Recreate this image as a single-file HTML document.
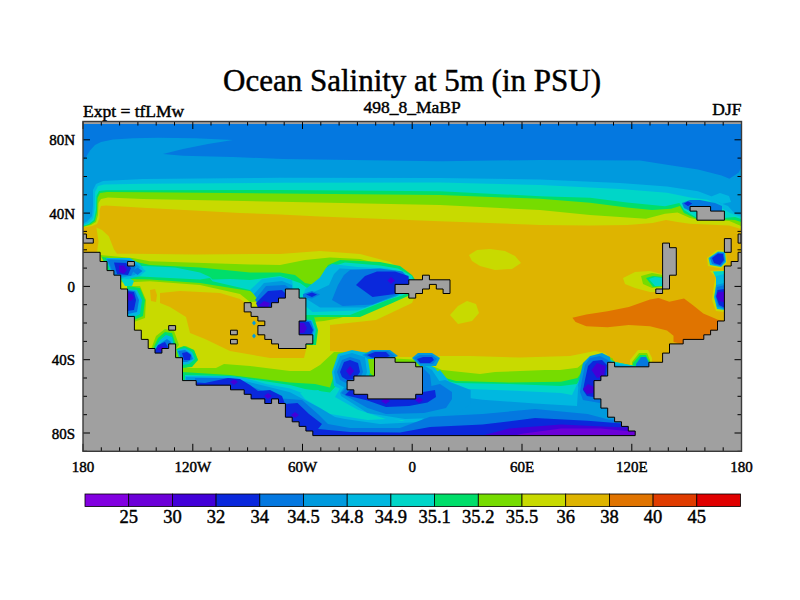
<!DOCTYPE html>
<html><head><meta charset="utf-8"><style>
html,body{margin:0;padding:0;background:#fff;}
svg{position:absolute;left:0;top:0;display:block}
text{font-family:"Liberation Serif",serif;fill:#000;stroke:#000;stroke-width:0.45px}
</style></head><body>
<svg width="800" height="600" viewBox="0 0 800 600">
<rect x="0" y="0" width="800" height="600" fill="#fff"/>
<text x="412" y="91" text-anchor="middle" font-size="31">Ocean Salinity at 5m (in PSU)</text>
<text x="412" y="112.5" text-anchor="middle" font-size="17.5">498_8_MaBP</text>
<text x="83" y="117" font-size="17.5">Expt = tfLMw</text>
<text x="741.5" y="115" text-anchor="end" font-size="17.5">DJF</text>
<clipPath id="mc"><rect x="83.0" y="121.5" width="658.5" height="329.8"/></clipPath>
<g clip-path="url(#mc)">
<rect x="83.0" y="121.5" width="658.5" height="329.8" fill="#DEB400"/>
<polygon points="83.0,122.0 83.0,227.5 92.0,226.0 97.0,224.0 99.5,218.0 99.5,210.0 101.0,206.0 106.0,205.5 143.0,207.7 240.0,213.0 280.0,214.5 320.0,216.5 440.0,221.2 540.0,225.0 590.0,225.6 627.5,225.0 652.5,223.1 666.0,220.0 677.5,221.9 690.0,223.8 729.0,225.6 741.0,229.0 741.0,122.0" fill="#C8DA00"/>
<polygon points="83.0,122.0 83.0,227.0 91.0,225.0 96.0,222.0 98.0,215.0 98.5,203.0 101.0,199.0 108.0,197.5 143.0,199.0 280.0,201.8 440.0,205.0 540.0,210.0 590.0,215.0 646.0,218.8 665.0,213.8 677.5,212.5 690.0,218.0 696.6,219.4 729.4,221.0 741.0,226.0 741.0,122.0" fill="#76DC00"/>
<polygon points="83.0,122.0 83.0,226.5 90.0,224.5 95.0,221.0 97.0,212.0 97.5,198.0 100.0,193.0 107.0,192.0 143.0,192.3 280.0,193.5 440.0,195.0 540.0,198.8 590.0,202.8 627.0,207.5 652.0,210.0 671.0,208.8 680.0,206.0 684.0,213.0 697.0,219.0 724.0,219.5 735.0,220.0 741.0,222.0 741.0,122.0" fill="#00DE6A"/>
<polygon points="83.0,122.0 83.0,226.0 89.0,224.0 94.0,220.0 96.0,210.0 96.5,196.0 99.0,191.0 106.0,190.3 143.0,190.3 280.0,190.0 440.0,191.2 540.0,196.2 590.0,197.8 627.0,202.5 665.0,206.2 679.4,203.1 684.0,210.0 697.0,218.0 724.0,218.0 735.0,217.0 741.0,219.0 741.0,122.0" fill="#00D6C8"/>
<polygon points="83.0,122.0 83.0,225.0 88.0,223.0 93.0,218.0 94.5,208.0 95.0,192.0 98.0,186.0 104.0,184.5 143.0,183.7 280.0,182.8 440.0,182.5 540.0,185.0 620.0,189.0 667.0,192.8 690.3,197.5 707.5,199.8 730.0,213.0 741.0,217.0 741.0,122.0" fill="#00B8E0"/>
<polygon points="83.0,122.0 83.0,223.5 87.0,221.5 92.0,216.0 93.0,205.0 93.0,190.0 96.0,184.0 103.0,181.0 143.0,179.0 280.0,177.8 440.0,178.0 540.0,179.5 620.0,183.1 667.0,186.6 698.0,191.2 710.6,196.0 720.0,203.0 728.0,206.0 735.0,214.0 741.0,215.0 741.0,122.0" fill="#009ADE"/>
<polygon points="83.0,122.0 83.0,161.0 86.0,157.0 90.0,150.5 95.0,145.0 101.0,142.0 113.0,139.5 133.0,138.3 158.0,137.8 195.5,138.3 233.0,140.0 208.0,144.0 183.0,149.0 163.0,154.0 183.0,155.8 233.0,157.0 283.0,159.0 440.0,161.2 540.0,160.0 640.0,160.5 667.0,164.7 698.0,169.4 721.6,175.6 729.4,178.8 738.8,172.5 741.0,168.0 741.0,122.0" fill="#0478E0"/>
<polygon points="710.0,197.0 720.0,193.0 729.0,196.0 731.0,202.0 722.0,204.0" fill="#00B8E0"/>
<polygon points="682.0,203.0 690.0,200.0 700.0,200.0 715.0,203.0 722.0,206.0 722.0,211.0 697.0,211.0 690.0,211.0 684.0,208.0" fill="#0478E0"/>
<polygon points="684.0,203.5 688.0,201.5 692.0,203.5 688.0,206.0" fill="#0A28DC"/>
<polygon points="83.0,252.3 97.0,252.0 98.5,241.3 96.4,227.4 102.0,230.0 108.8,236.2 114.0,249.6 117.0,253.7 132.5,253.8 195.0,254.4 280.0,254.0 320.0,251.0 360.0,254.0 390.0,262.0 408.0,274.0 420.0,285.0 412.0,303.0 376.0,320.0 330.0,325.0 330.0,351.0 360.0,353.0 400.0,357.0 420.0,357.0 440.0,356.0 470.0,356.0 520.0,357.5 570.0,356.0 595.0,351.0 605.0,353.0 615.0,362.0 615.0,440.0 83.0,440.0" fill="#C8DA00"/>
<polygon points="160.0,293.0 180.0,291.0 220.0,293.0 240.0,299.0 250.0,306.0 275.0,325.0 285.0,346.0 306.0,350.0 304.0,358.0 270.0,358.0 230.0,351.0 205.0,339.0 190.0,333.0 186.0,317.0 170.0,307.0 160.0,303.0" fill="#DEB400"/>
<polygon points="150.0,290.0 155.0,289.0 157.0,295.0 156.0,302.0 151.0,301.0" fill="#DEB400"/>
<polygon points="572.4,317.7 586.3,314.5 607.5,311.3 628.8,307.0 650.0,299.6 658.6,298.0 669.3,301.7 684.0,298.5 692.7,305.0 703.3,313.4 718.0,319.8 730.0,322.0 730.0,345.0 686.0,345.0 673.5,342.0 673.5,335.7 667.0,330.4 650.0,326.2 628.8,325.1 607.5,327.2 586.3,326.2 575.6,322.0" fill="#E07400"/>
<polygon points="469.0,255.0 477.0,250.0 490.0,249.0 505.0,251.0 515.0,256.0 521.0,263.0 512.0,269.0 495.0,270.0 480.0,266.0 472.0,261.0" fill="#C8DA00"/>
<polygon points="450.0,315.0 458.0,306.0 467.0,301.0 476.0,304.0 479.0,313.0 472.0,321.0 458.0,324.0" fill="#C8DA00"/>
<polygon points="623.0,278.0 635.0,272.0 650.0,271.0 662.0,274.0 664.0,292.0 650.0,292.0 635.0,288.0 625.0,284.0" fill="#C8DA00"/>
<polygon points="630.0,360.0 638.0,350.0 648.0,350.0 652.0,358.0 652.0,367.0 630.0,367.0" fill="#C8DA00"/>
<polygon points="100.0,255.0 132.5,258.0 150.0,261.2 250.0,264.4 280.0,265.0 305.0,260.0 330.0,257.5 360.0,259.0 392.0,267.0 408.0,277.0 420.0,285.0 408.0,293.0 392.0,303.0 360.0,311.0 340.0,318.0 324.0,321.0 312.0,322.0 300.0,300.0 250.0,302.0 240.0,294.0 200.0,285.0 150.0,281.2 126.0,282.5 115.0,282.0" fill="#76DC00"/>
<polygon points="127.0,286.0 140.0,286.0 146.0,300.0 145.0,318.0 134.0,322.0 127.0,318.0" fill="#76DC00"/>
<polygon points="150.0,352.0 156.0,336.0 165.0,329.0 174.0,331.0 179.0,345.0 172.0,354.0" fill="#76DC00"/>
<polygon points="641.0,276.0 652.0,273.0 663.0,275.0 663.0,287.0 652.0,288.0 643.0,284.0" fill="#76DC00"/>
<polygon points="632.0,362.0 639.0,353.0 647.0,353.0 650.0,360.0 650.0,367.0 632.0,367.0" fill="#76DC00"/>
<polygon points="175.0,355.0 178.0,348.0 186.0,346.0 194.0,350.0 198.0,360.0 186.0,368.0 216.0,368.0 224.0,364.0 250.0,366.0 290.0,371.0 310.0,371.0 320.0,365.0 334.0,352.0 367.0,352.0 375.0,357.5 423.0,360.0 430.0,365.0 442.0,370.0 480.0,374.0 495.0,372.0 545.0,370.0 560.0,370.0 577.5,367.7 589.0,358.3 603.0,354.2 612.5,358.3 615.0,363.0 640.0,367.0 640.0,440.0 175.0,440.0" fill="#76DC00"/>
<polygon points="102.0,257.0 132.5,261.0 150.0,265.0 200.0,267.5 250.0,272.5 280.0,272.5 295.0,275.0 305.0,283.0 315.0,285.0 322.0,275.0 328.0,265.0 340.0,260.0 380.0,262.0 400.0,266.0 412.0,275.0 420.0,287.0 408.0,296.0 390.0,304.0 360.0,317.0 320.0,317.0 305.0,318.0 296.0,300.0 262.0,296.0 250.0,291.0 200.0,283.0 150.0,279.4 130.0,279.0 112.0,281.0" fill="#00DE6A"/>
<polygon points="127.0,286.0 140.0,288.0 145.0,300.0 143.0,316.0 134.0,320.0 127.0,320.0" fill="#00DE6A"/>
<polygon points="152.0,351.0 158.0,338.0 165.0,332.0 172.0,333.0 176.0,345.0 170.0,353.0" fill="#00DE6A"/>
<polygon points="176.0,349.0 184.0,346.0 194.0,350.0 198.0,360.0 192.0,367.0 182.0,368.0" fill="#00DE6A"/>
<polygon points="299.0,317.0 314.0,317.0 318.0,330.0 316.0,345.0 299.0,345.0" fill="#00DE6A"/>
<polygon points="182.0,372.0 230.0,375.0 270.0,380.0 290.0,382.5 315.0,384.0 330.0,387.5 334.0,375.0 338.0,358.0 350.0,354.0 363.0,356.0 367.0,370.0 375.0,378.0 400.0,380.0 423.0,368.0 435.0,375.0 456.0,381.0 509.0,382.6 561.0,381.7 577.5,378.0 583.0,370.0 592.7,359.5 602.0,356.0 615.0,362.0 640.0,367.0 640.0,440.0 182.0,440.0" fill="#00DE6A"/>
<polygon points="646.0,278.0 653.0,276.0 663.0,277.0 663.0,286.0 653.0,287.0" fill="#00DE6A"/>
<polygon points="633.0,363.0 640.0,355.0 646.0,355.0 649.0,361.0 649.0,367.0 633.0,367.0" fill="#00DE6A"/>
<polygon points="118.0,265.0 150.0,266.2 175.0,267.5 200.0,272.5 210.0,276.9 212.5,279.4 230.0,279.0 250.0,280.0 280.0,276.0 300.0,283.0 310.0,290.0 318.0,288.0 325.0,280.0 330.0,267.0 345.0,262.5 380.0,265.5 398.0,268.5 412.0,276.0 415.0,289.0 402.5,295.5 387.5,300.0 350.0,315.0 305.0,315.0 299.0,300.0 290.0,302.0 262.0,298.0 250.0,290.0 212.5,281.2 210.0,278.0 200.0,279.4 150.0,276.9 130.0,276.0 118.0,277.0" fill="#00D6C8"/>
<polygon points="121.0,279.0 128.0,277.0 134.0,281.0 132.0,286.0 125.0,286.0" fill="#00D6C8"/>
<polygon points="185.0,375.0 230.0,376.0 270.0,382.0 290.0,385.0 305.0,389.0 330.0,392.5 336.0,386.0 336.0,370.0 344.0,357.0 355.0,355.0 365.0,360.0 369.0,378.0 400.0,384.0 423.0,372.0 433.0,378.0 456.0,383.0 509.0,384.0 561.0,386.0 577.0,384.0 583.0,374.7 595.0,360.7 605.0,357.0 615.0,362.0 640.0,367.0 640.0,440.0 185.0,440.0" fill="#00D6C8"/>
<polygon points="649.0,279.0 655.0,277.0 663.0,278.0 663.0,286.0 655.0,286.0" fill="#00D6C8"/>
<polygon points="130.0,271.0 138.0,266.0 146.0,271.0 138.0,276.0" fill="#00B8E0"/>
<polygon points="106.0,258.0 130.0,258.0 140.0,264.0 145.0,271.0 140.0,276.0 128.0,279.0 112.0,277.0" fill="#00B8E0"/>
<polygon points="127.0,289.0 137.0,290.0 142.0,300.0 140.0,314.0 132.0,318.0 127.0,316.0" fill="#00B8E0"/>
<polygon points="153.0,351.0 160.0,340.0 166.0,335.0 172.0,337.0 174.0,346.0 168.0,353.0" fill="#00B8E0"/>
<polygon points="177.0,350.0 185.0,348.0 192.0,352.0 195.0,359.0 189.0,364.0 182.0,365.0" fill="#00B8E0"/>
<polygon points="250.0,290.0 262.0,279.0 280.0,277.0 292.0,280.0 295.0,300.0 262.0,304.0" fill="#00B8E0"/>
<polygon points="332.0,264.0 357.5,267.0 387.5,268.5 405.0,273.0 412.0,285.0 395.0,297.0 357.5,310.5 312.5,312.0 302.0,303.0 305.0,289.5 320.0,277.5 326.0,268.0" fill="#00B8E0"/>
<polygon points="299.0,319.0 312.0,320.0 316.0,330.0 314.0,340.0 299.0,340.0" fill="#00B8E0"/>
<polygon points="185.0,376.0 230.0,376.0 245.0,378.0 266.0,384.0 290.0,388.5 305.0,394.0 330.0,406.0 360.0,413.0 385.0,417.0 402.0,421.0 415.0,417.0 432.0,402.0 443.0,388.0 509.0,390.5 561.0,393.0 572.0,395.0 580.0,378.0 590.0,363.0 600.0,357.0 615.0,363.0 640.0,367.0 640.0,440.0 185.0,440.0" fill="#00B8E0"/>
<polygon points="332.0,372.0 338.0,354.0 352.0,350.0 367.0,353.0 370.0,372.0 365.0,390.0 347.0,392.0 334.0,386.0" fill="#00B8E0"/>
<polygon points="423.0,362.0 435.0,368.0 444.0,380.0 446.0,395.0 442.0,408.0 423.0,408.0" fill="#00B8E0"/>
<polygon points="338.0,392.0 342.0,384.0 423.0,380.0 440.0,370.0 452.0,385.0 480.0,395.0 480.0,417.5 442.6,423.0 386.0,419.0 358.0,410.0 335.0,397.0" fill="#00B8E0"/>
<polygon points="300.0,393.0 318.0,390.0 330.0,397.0 358.0,410.0 386.0,419.0 367.5,420.0 330.0,414.0 305.0,399.0" fill="#00D6C8"/>
<polygon points="106.0,259.0 131.0,260.0 140.0,267.0 135.0,275.0 120.0,278.0 113.0,275.0" fill="#009ADE"/>
<polygon points="254.0,294.0 264.0,283.0 282.0,281.0 292.0,285.0 292.0,300.0 262.0,306.0" fill="#009ADE"/>
<polygon points="339.5,268.5 372.5,270.0 400.0,271.0 412.0,285.0 397.0,296.0 365.0,307.5 320.0,307.5 305.0,298.0 309.5,294.0 329.0,285.0 334.0,274.0" fill="#009ADE"/>
<polygon points="252.0,323.0 254.0,320.5 256.0,323.0 254.0,325.5" fill="#009ADE"/>
<polygon points="252.0,336.0 254.0,333.5 256.0,336.0 254.0,338.5" fill="#009ADE"/>
<polygon points="186.0,377.0 230.0,378.0 245.0,381.0 290.0,392.2 320.0,408.0 335.0,417.0 345.0,419.0 380.0,424.0 420.0,422.0 432.0,410.0 430.0,393.0 482.5,399.7 535.0,403.6 577.0,406.0 578.0,390.0 585.0,372.0 592.0,360.0 602.0,357.0 615.0,365.0 640.0,367.0 640.0,440.0 186.0,440.0" fill="#009ADE"/>
<polygon points="334.0,372.0 340.0,356.0 352.0,353.0 365.0,357.0 367.0,372.0 362.0,386.0 347.0,389.0 336.0,383.0" fill="#009ADE"/>
<polygon points="362.0,355.0 372.0,350.0 390.0,350.0 398.0,356.0 390.0,359.0 368.0,359.0" fill="#009ADE"/>
<polygon points="412.0,358.0 418.0,353.0 432.0,353.0 440.0,358.0 436.0,366.0 420.0,366.0" fill="#009ADE"/>
<polygon points="423.0,365.0 432.0,370.0 440.0,382.0 440.0,400.0 423.0,402.0" fill="#009ADE"/>
<polygon points="340.0,393.0 345.0,386.0 423.0,384.0 445.0,380.0 470.7,390.0 470.7,404.0 452.0,417.5 405.0,419.0 367.5,413.0 341.0,396.0" fill="#009ADE"/>
<polygon points="578.0,385.0 583.0,363.0 590.0,356.0 602.0,353.0 610.0,357.0 612.0,370.0 605.0,400.0 580.0,404.0" fill="#009ADE"/>
<polygon points="107.5,259.4 128.0,260.0 136.0,266.0 131.0,276.0 114.0,275.0" fill="#0478E0"/>
<polygon points="132.5,271.0 137.5,267.5 142.5,271.0 137.5,275.0" fill="#0478E0"/>
<polygon points="127.0,290.0 135.0,291.0 139.0,300.0 137.0,312.0 128.0,314.0" fill="#0478E0"/>
<polygon points="154.0,352.0 161.0,343.0 167.0,339.0 171.0,342.0 170.0,350.0 166.0,353.0" fill="#0478E0"/>
<polygon points="178.0,351.0 185.0,350.0 191.0,354.0 193.0,359.0 187.0,362.0 182.0,362.0" fill="#0478E0"/>
<polygon points="255.0,300.0 266.0,286.0 285.0,285.0 292.0,290.0 292.0,303.0 262.0,308.0" fill="#0478E0"/>
<polygon points="350.0,270.0 380.0,268.5 402.5,271.5 412.0,284.0 395.0,295.5 372.5,304.5 342.5,306.0 332.0,300.0 338.0,285.0 344.0,275.0" fill="#0478E0"/>
<polygon points="303.0,294.0 312.0,291.0 320.0,294.5 312.0,298.5 303.0,297.0" fill="#0478E0"/>
<polygon points="299.0,320.0 311.0,321.0 314.0,330.0 312.0,337.0 299.0,337.0" fill="#0478E0"/>
<polygon points="195.0,378.0 230.0,378.0 245.0,384.0 282.6,398.5 302.0,400.0 319.0,415.0 328.0,424.0 350.0,428.0 400.0,428.0 430.0,416.7 482.5,414.0 535.0,409.0 587.5,414.0 608.5,419.4 640.0,420.0 640.0,440.0 194.0,440.0" fill="#0478E0"/>
<polygon points="337.0,372.0 342.0,360.0 350.0,357.0 360.0,360.0 363.0,372.0 358.0,382.0 348.0,384.0 340.0,380.0" fill="#0478E0"/>
<polygon points="364.0,355.0 373.0,351.0 388.0,351.0 395.0,356.0 388.0,358.0 370.0,358.0" fill="#0478E0"/>
<polygon points="414.0,358.0 420.0,355.0 432.0,355.0 437.0,359.0 433.0,364.0 420.0,364.0" fill="#0478E0"/>
<polygon points="423.0,368.0 430.0,375.0 432.0,390.0 428.0,398.0 423.0,398.0" fill="#0478E0"/>
<polygon points="341.0,393.0 346.0,388.0 423.0,388.0 440.0,384.0 452.0,392.0 452.0,399.0 446.0,408.0 424.0,413.0 386.0,414.0 367.5,408.0" fill="#0478E0"/>
<polygon points="582.0,380.0 585.0,365.0 590.0,358.0 600.0,356.0 608.0,360.0 610.0,370.0 605.0,385.0 600.0,403.0 583.0,400.0 580.0,392.0" fill="#0478E0"/>
<polygon points="636.0,364.0 641.0,357.0 646.0,357.0 649.0,363.0 649.0,367.0 636.0,367.0" fill="#0478E0"/>
<polygon points="114.0,262.5 126.0,263.0 131.0,268.0 128.0,275.0 117.0,274.0" fill="#0A28DC"/>
<polygon points="127.0,291.0 134.0,292.0 136.0,300.0 134.0,310.0 127.0,311.0" fill="#0A28DC"/>
<polygon points="154.0,352.0 158.0,345.0 165.0,342.0 168.0,347.0 164.0,354.0 156.0,354.0" fill="#0A28DC"/>
<polygon points="182.0,353.0 187.0,352.0 191.0,355.0 190.0,360.0 184.0,360.0" fill="#0A28DC"/>
<polygon points="256.0,303.0 268.0,291.0 282.0,290.0 288.0,296.0 280.0,306.0 258.0,308.0" fill="#0A28DC"/>
<polygon points="377.0,271.5 395.0,271.5 408.5,276.0 410.0,290.0 395.0,294.0 372.5,297.0 356.0,285.0 365.0,276.0" fill="#0A28DC"/>
<polygon points="306.0,294.5 312.0,292.5 317.0,294.5 312.0,297.0" fill="#0A28DC"/>
<polygon points="299.0,321.0 309.0,322.0 313.0,330.0 311.0,335.0 299.0,335.0" fill="#0A28DC"/>
<polygon points="175.0,381.0 205.0,383.0 228.0,378.0 240.0,379.0 250.0,385.0 258.0,391.0 270.0,390.0 282.0,396.0 285.0,404.0 297.5,403.0 309.0,414.0 322.0,424.0 318.0,429.0 350.0,432.0 400.0,432.5 430.0,427.0 482.5,424.6 535.0,418.0 587.5,420.7 619.0,423.3 640.0,425.0 640.0,440.0 175.0,440.0" fill="#0A28DC"/>
<polygon points="340.0,372.0 344.0,362.0 350.0,360.0 358.0,363.0 360.0,372.0 355.0,379.0 347.0,380.0 342.0,377.0" fill="#0A28DC"/>
<polygon points="367.0,355.0 375.0,352.0 386.0,352.0 390.0,356.0 385.0,357.7 372.0,357.7" fill="#0A28DC"/>
<polygon points="417.0,359.0 423.0,357.0 432.0,357.0 434.0,360.0 430.0,363.0 420.0,363.0" fill="#0A28DC"/>
<polygon points="345.0,395.0 350.0,390.0 423.0,392.0 435.0,390.0 436.0,397.0 427.5,402.5 409.0,406.0 386.0,407.0 367.5,400.6" fill="#0A28DC"/>
<polygon points="585.0,380.0 588.0,366.0 593.0,361.0 602.0,360.0 607.0,365.0 606.0,380.0 600.0,398.0 587.0,396.0 583.0,390.0" fill="#0A28DC"/>
<polygon points="685.0,203.5 688.0,201.5 692.0,203.5 688.0,206.0" fill="#0A28DC"/>
<polygon points="119.0,265.6 124.0,265.6 127.0,270.0 124.0,273.8 119.0,272.0" fill="#4200D8"/>
<polygon points="127.5,293.0 132.0,294.0 134.0,298.0 131.0,301.0 127.5,300.0" fill="#4200D8"/>
<polygon points="157.0,349.0 161.0,346.0 165.0,348.0 161.0,351.0" fill="#4200D8"/>
<polygon points="258.0,306.0 264.0,301.0 270.0,303.0 268.0,307.0" fill="#4200D8"/>
<polygon points="387.5,280.5 391.0,277.0 395.0,280.5 391.0,284.0" fill="#4200D8"/>
<polygon points="299.0,323.0 304.0,323.0 307.0,328.0 304.0,333.0 299.0,333.0" fill="#4200D8"/>
<polygon points="230.0,382.0 234.0,379.0 238.0,382.0 234.0,385.0" fill="#4200D8"/>
<polygon points="264.0,396.0 268.0,393.0 272.0,396.0 268.0,399.0" fill="#4200D8"/>
<polygon points="291.0,415.0 295.0,412.0 299.0,415.0 295.0,418.0" fill="#4200D8"/>
<polygon points="346.0,371.0 350.0,366.0 354.0,371.0 350.0,376.0" fill="#4200D8"/>
<polygon points="381.0,401.0 385.6,398.0 390.0,401.0 385.6,404.0" fill="#4200D8"/>
<polygon points="415.0,400.0 419.0,397.0 423.0,400.0 419.0,403.0" fill="#4200D8"/>
<polygon points="591.5,370.0 597.0,363.0 605.5,366.0 604.0,376.0 597.0,378.0" fill="#4200D8"/>
<polygon points="583.0,389.0 588.0,384.0 594.0,387.0 593.0,393.0 587.0,394.0" fill="#4200D8"/>
<polygon points="482.5,435.6 509.0,428.6 561.0,424.6 613.7,427.0 640.0,428.0 640.0,440.0 482.5,440.0" fill="#4200D8"/>
<polygon points="515.0,435.6 522.0,433.8 561.0,428.6 600.6,428.6 627.0,431.0 640.0,432.0 640.0,440.0 515.0,440.0" fill="#6C00D8"/>
<polygon points="707.0,258.0 717.0,250.0 726.0,250.5 727.0,263.0 721.0,268.5 708.0,266.0" fill="#C8DA00"/>
<polygon points="708.5,258.0 718.0,251.5 725.0,252.0 726.0,262.0 721.0,267.0 710.0,265.0" fill="#00B8E0"/>
<polygon points="710.0,258.0 718.0,252.5 724.0,253.0 725.0,261.0 721.0,266.0 712.0,264.0" fill="#0478E0"/>
<polygon points="712.0,258.0 718.0,253.5 723.0,254.0 724.0,260.0 720.0,265.0 714.0,263.0" fill="#0A28DC"/>
<polygon points="710.0,271.0 724.5,270.0 724.5,312.0 716.0,311.0 712.0,300.0 714.0,285.0 716.0,277.0" fill="#C8DA00"/>
<polygon points="713.0,271.5 724.5,271.0 724.5,286.0 718.0,285.0 716.0,278.0" fill="#00D6C8"/>
<polygon points="716.0,276.0 724.5,274.0 724.5,310.0 717.0,309.0 714.0,297.0 716.0,286.0" fill="#00B8E0"/>
<polygon points="716.0,285.0 724.5,283.0 724.5,309.0 717.0,307.0 715.0,297.0" fill="#009ADE"/>
<polygon points="717.0,287.0 724.5,285.0 724.5,309.0 718.0,306.0 715.5,296.0" fill="#0478E0"/>
<polygon points="717.5,290.0 724.5,289.0 724.5,307.7 719.0,305.0 716.3,297.0" fill="#0A28DC"/>
<polygon points="718.0,292.0 724.5,291.7 724.5,302.3 719.0,301.0 716.3,296.0" fill="#4200D8"/>
<polygon points="83.0,252.3 100.1,252.3 100.1,261.5 107.0,261.5 107.0,270.6 113.9,270.6 113.9,275.2 120.7,275.2 120.7,289.0 127.6,289.0 127.6,316.4 134.4,316.4 134.4,330.2 141.3,330.2 141.3,339.4 148.2,339.4 148.2,348.5 155.0,348.5 155.0,353.1 161.9,353.1 161.9,348.5 168.7,348.5 168.7,343.9 175.6,343.9 175.6,357.7 182.5,357.7 182.5,380.6 196.2,380.6 196.2,385.2 230.5,385.2 230.5,389.8 244.2,389.8 244.2,394.3 251.1,394.3 251.1,398.9 264.8,398.9 264.8,403.5 271.6,403.5 271.6,398.9 278.5,398.9 278.5,403.5 285.4,403.5 285.4,417.2 292.2,417.2 292.2,421.8 299.1,421.8 299.1,426.4 305.9,426.4 305.9,431.0 312.8,431.0 312.8,435.6 635.2,435.6 635.2,431.0 628.3,431.0 628.3,426.4 621.5,426.4 621.5,421.8 614.6,421.8 614.6,417.2 607.7,417.2 607.7,408.1 600.9,408.1 600.9,398.9 594.0,398.9 594.0,380.6 600.9,380.6 600.9,376.0 607.7,376.0 607.7,362.3 614.6,362.3 614.6,366.8 648.9,366.8 648.9,362.3 662.6,362.3 662.6,353.1 669.5,353.1 669.5,343.9 683.2,343.9 683.2,339.4 703.8,339.4 703.8,334.8 710.6,334.8 710.6,330.2 717.5,330.2 717.5,321.0 724.4,321.0 724.4,266.0 731.2,266.0 731.2,261.5 738.1,261.5 738.1,252.3 741.0,252.3 745.0,252.3 745.0,455.0 80.0,455.0 80.0,252.3" fill="#A0A0A0" stroke="#000" stroke-width="1"/>
<polygon points="374.5,357.7 395.1,357.7 395.1,362.3 415.7,362.3 415.7,366.8 422.5,366.8 422.5,394.3 415.7,394.3 415.7,398.9 367.7,398.9 367.7,394.3 353.9,394.3 353.9,389.8 347.1,389.8 347.1,380.6 353.9,380.6 353.9,376.0 374.5,376.0" fill="#A0A0A0" stroke="#000" stroke-width="1"/>
<polygon points="285.4,289.0 299.1,289.0 299.1,298.1 305.9,298.1 305.9,321.0 299.1,321.0 299.1,334.8 312.8,334.8 312.8,343.9 305.9,343.9 305.9,348.5 278.5,348.5 278.5,343.9 271.6,343.9 271.6,339.4 264.8,339.4 264.8,334.8 257.9,334.8 257.9,325.6 264.8,325.6 264.8,321.0 257.9,321.0 257.9,316.4 251.1,316.4 251.1,311.9 244.2,311.9 244.2,302.7 251.1,302.7 251.1,307.3 271.6,307.3 271.6,302.7 278.5,302.7 278.5,298.1 285.4,298.1" fill="#A0A0A0" stroke="#000" stroke-width="1"/>
<polygon points="395.1,284.4 408.8,284.4 408.8,279.8 422.5,279.8 422.5,275.2 429.4,275.2 429.4,279.8 450.0,279.8 450.0,293.5 443.1,293.5 443.1,289.0 436.3,289.0 436.3,284.4 429.4,284.4 429.4,289.0 422.5,289.0 422.5,293.5 415.7,293.5 415.7,298.1 408.8,298.1 408.8,293.5 395.1,293.5" fill="#A0A0A0" stroke="#000" stroke-width="1"/>
<polygon points="690.1,206.5 710.6,206.5 710.6,211.1 724.4,211.1 724.4,220.2 696.9,220.2 696.9,211.1 690.1,211.1" fill="#A0A0A0" stroke="#000" stroke-width="1"/>
<polygon points="662.6,243.1 669.5,243.1 669.5,247.7 676.3,247.7 676.3,275.2 669.5,275.2 669.5,289.0 662.6,289.0" fill="#A0A0A0" stroke="#000" stroke-width="1"/>
<polygon points="655.8,289.0 662.6,289.0 662.6,293.5 655.8,293.5" fill="#A0A0A0" stroke="#000" stroke-width="1"/>
<polygon points="724.4,238.6 731.2,238.6 731.2,252.3 724.4,252.3" fill="#A0A0A0" stroke="#000" stroke-width="1"/>
<polygon points="738.1,234.0 741.0,234.0 741.0,243.1 738.1,243.1" fill="#A0A0A0" stroke="#000" stroke-width="1"/>
<polygon points="83.0,234.0 86.4,234.0 86.4,238.6 93.3,238.6 93.3,243.1 83.0,243.1" fill="#A0A0A0" stroke="#000" stroke-width="1"/>
<polygon points="127.6,261.5 134.4,261.5 134.4,266.0 127.6,266.0" fill="#A0A0A0" stroke="#000" stroke-width="1"/>
<polygon points="168.7,325.6 175.6,325.6 175.6,330.2 168.7,330.2" fill="#A0A0A0" stroke="#000" stroke-width="1"/>
<polygon points="230.5,330.2 237.3,330.2 237.3,334.8 230.5,334.8" fill="#A0A0A0" stroke="#000" stroke-width="1"/>
<polygon points="230.5,339.4 237.3,339.4 237.3,343.9 230.5,343.9" fill="#A0A0A0" stroke="#000" stroke-width="1"/>
<polygon points="80.0,118.0 745.0,118.0 745.0,124.0 80.0,124.0" fill="#A0A0A0"/>
</g>
<g stroke="#000" stroke-width="1">
<line x1="83.0" y1="121.5" x2="83.0" y2="129.0"/>
<line x1="83.0" y1="451.3" x2="83.0" y2="443.8"/>
<line x1="101.3" y1="121.5" x2="101.3" y2="125.5"/>
<line x1="101.3" y1="451.3" x2="101.3" y2="447.3"/>
<line x1="119.6" y1="121.5" x2="119.6" y2="125.5"/>
<line x1="119.6" y1="451.3" x2="119.6" y2="447.3"/>
<line x1="137.9" y1="121.5" x2="137.9" y2="125.5"/>
<line x1="137.9" y1="451.3" x2="137.9" y2="447.3"/>
<line x1="156.2" y1="121.5" x2="156.2" y2="125.5"/>
<line x1="156.2" y1="451.3" x2="156.2" y2="447.3"/>
<line x1="174.5" y1="121.5" x2="174.5" y2="125.5"/>
<line x1="174.5" y1="451.3" x2="174.5" y2="447.3"/>
<line x1="192.8" y1="121.5" x2="192.8" y2="129.0"/>
<line x1="192.8" y1="451.3" x2="192.8" y2="443.8"/>
<line x1="211.0" y1="121.5" x2="211.0" y2="125.5"/>
<line x1="211.0" y1="451.3" x2="211.0" y2="447.3"/>
<line x1="229.3" y1="121.5" x2="229.3" y2="125.5"/>
<line x1="229.3" y1="451.3" x2="229.3" y2="447.3"/>
<line x1="247.6" y1="121.5" x2="247.6" y2="125.5"/>
<line x1="247.6" y1="451.3" x2="247.6" y2="447.3"/>
<line x1="265.9" y1="121.5" x2="265.9" y2="125.5"/>
<line x1="265.9" y1="451.3" x2="265.9" y2="447.3"/>
<line x1="284.2" y1="121.5" x2="284.2" y2="125.5"/>
<line x1="284.2" y1="451.3" x2="284.2" y2="447.3"/>
<line x1="302.5" y1="121.5" x2="302.5" y2="129.0"/>
<line x1="302.5" y1="451.3" x2="302.5" y2="443.8"/>
<line x1="320.8" y1="121.5" x2="320.8" y2="125.5"/>
<line x1="320.8" y1="451.3" x2="320.8" y2="447.3"/>
<line x1="339.1" y1="121.5" x2="339.1" y2="125.5"/>
<line x1="339.1" y1="451.3" x2="339.1" y2="447.3"/>
<line x1="357.4" y1="121.5" x2="357.4" y2="125.5"/>
<line x1="357.4" y1="451.3" x2="357.4" y2="447.3"/>
<line x1="375.7" y1="121.5" x2="375.7" y2="125.5"/>
<line x1="375.7" y1="451.3" x2="375.7" y2="447.3"/>
<line x1="394.0" y1="121.5" x2="394.0" y2="125.5"/>
<line x1="394.0" y1="451.3" x2="394.0" y2="447.3"/>
<line x1="412.2" y1="121.5" x2="412.2" y2="129.0"/>
<line x1="412.2" y1="451.3" x2="412.2" y2="443.8"/>
<line x1="430.5" y1="121.5" x2="430.5" y2="125.5"/>
<line x1="430.5" y1="451.3" x2="430.5" y2="447.3"/>
<line x1="448.8" y1="121.5" x2="448.8" y2="125.5"/>
<line x1="448.8" y1="451.3" x2="448.8" y2="447.3"/>
<line x1="467.1" y1="121.5" x2="467.1" y2="125.5"/>
<line x1="467.1" y1="451.3" x2="467.1" y2="447.3"/>
<line x1="485.4" y1="121.5" x2="485.4" y2="125.5"/>
<line x1="485.4" y1="451.3" x2="485.4" y2="447.3"/>
<line x1="503.7" y1="121.5" x2="503.7" y2="125.5"/>
<line x1="503.7" y1="451.3" x2="503.7" y2="447.3"/>
<line x1="522.0" y1="121.5" x2="522.0" y2="129.0"/>
<line x1="522.0" y1="451.3" x2="522.0" y2="443.8"/>
<line x1="540.3" y1="121.5" x2="540.3" y2="125.5"/>
<line x1="540.3" y1="451.3" x2="540.3" y2="447.3"/>
<line x1="558.6" y1="121.5" x2="558.6" y2="125.5"/>
<line x1="558.6" y1="451.3" x2="558.6" y2="447.3"/>
<line x1="576.9" y1="121.5" x2="576.9" y2="125.5"/>
<line x1="576.9" y1="451.3" x2="576.9" y2="447.3"/>
<line x1="595.2" y1="121.5" x2="595.2" y2="125.5"/>
<line x1="595.2" y1="451.3" x2="595.2" y2="447.3"/>
<line x1="613.5" y1="121.5" x2="613.5" y2="125.5"/>
<line x1="613.5" y1="451.3" x2="613.5" y2="447.3"/>
<line x1="631.8" y1="121.5" x2="631.8" y2="129.0"/>
<line x1="631.8" y1="451.3" x2="631.8" y2="443.8"/>
<line x1="650.0" y1="121.5" x2="650.0" y2="125.5"/>
<line x1="650.0" y1="451.3" x2="650.0" y2="447.3"/>
<line x1="668.3" y1="121.5" x2="668.3" y2="125.5"/>
<line x1="668.3" y1="451.3" x2="668.3" y2="447.3"/>
<line x1="686.6" y1="121.5" x2="686.6" y2="125.5"/>
<line x1="686.6" y1="451.3" x2="686.6" y2="447.3"/>
<line x1="704.9" y1="121.5" x2="704.9" y2="125.5"/>
<line x1="704.9" y1="451.3" x2="704.9" y2="447.3"/>
<line x1="723.2" y1="121.5" x2="723.2" y2="125.5"/>
<line x1="723.2" y1="451.3" x2="723.2" y2="447.3"/>
<line x1="741.5" y1="121.5" x2="741.5" y2="129.0"/>
<line x1="741.5" y1="451.3" x2="741.5" y2="443.8"/>
<line x1="83.0" y1="451.3" x2="87.0" y2="451.3"/>
<line x1="741.5" y1="451.3" x2="737.5" y2="451.3"/>
<line x1="83.0" y1="433.0" x2="90.0" y2="433.0"/>
<line x1="741.5" y1="433.0" x2="734.5" y2="433.0"/>
<line x1="83.0" y1="414.7" x2="87.0" y2="414.7"/>
<line x1="741.5" y1="414.7" x2="737.5" y2="414.7"/>
<line x1="83.0" y1="396.3" x2="87.0" y2="396.3"/>
<line x1="741.5" y1="396.3" x2="737.5" y2="396.3"/>
<line x1="83.0" y1="378.0" x2="87.0" y2="378.0"/>
<line x1="741.5" y1="378.0" x2="737.5" y2="378.0"/>
<line x1="83.0" y1="359.7" x2="90.0" y2="359.7"/>
<line x1="741.5" y1="359.7" x2="734.5" y2="359.7"/>
<line x1="83.0" y1="341.4" x2="87.0" y2="341.4"/>
<line x1="741.5" y1="341.4" x2="737.5" y2="341.4"/>
<line x1="83.0" y1="323.0" x2="87.0" y2="323.0"/>
<line x1="741.5" y1="323.0" x2="737.5" y2="323.0"/>
<line x1="83.0" y1="304.7" x2="87.0" y2="304.7"/>
<line x1="741.5" y1="304.7" x2="737.5" y2="304.7"/>
<line x1="83.0" y1="286.4" x2="90.0" y2="286.4"/>
<line x1="741.5" y1="286.4" x2="734.5" y2="286.4"/>
<line x1="83.0" y1="268.1" x2="87.0" y2="268.1"/>
<line x1="741.5" y1="268.1" x2="737.5" y2="268.1"/>
<line x1="83.0" y1="249.8" x2="87.0" y2="249.8"/>
<line x1="741.5" y1="249.8" x2="737.5" y2="249.8"/>
<line x1="83.0" y1="231.4" x2="87.0" y2="231.4"/>
<line x1="741.5" y1="231.4" x2="737.5" y2="231.4"/>
<line x1="83.0" y1="213.1" x2="90.0" y2="213.1"/>
<line x1="741.5" y1="213.1" x2="734.5" y2="213.1"/>
<line x1="83.0" y1="194.8" x2="87.0" y2="194.8"/>
<line x1="741.5" y1="194.8" x2="737.5" y2="194.8"/>
<line x1="83.0" y1="176.5" x2="87.0" y2="176.5"/>
<line x1="741.5" y1="176.5" x2="737.5" y2="176.5"/>
<line x1="83.0" y1="158.1" x2="87.0" y2="158.1"/>
<line x1="741.5" y1="158.1" x2="737.5" y2="158.1"/>
<line x1="83.0" y1="139.8" x2="90.0" y2="139.8"/>
<line x1="741.5" y1="139.8" x2="734.5" y2="139.8"/>
<line x1="83.0" y1="121.5" x2="87.0" y2="121.5"/>
<line x1="741.5" y1="121.5" x2="737.5" y2="121.5"/>
</g>
<rect x="83.0" y="121.5" width="658.5" height="329.8" fill="none" stroke="#3a3a3a" stroke-width="1.4"/>
<g font-size="15">
<text x="83.0" y="471.5" text-anchor="middle">180</text>
<text x="192.8" y="471.5" text-anchor="middle">120W</text>
<text x="302.5" y="471.5" text-anchor="middle">60W</text>
<text x="412.2" y="471.5" text-anchor="middle">0</text>
<text x="522.0" y="471.5" text-anchor="middle">60E</text>
<text x="631.8" y="471.5" text-anchor="middle">120E</text>
<text x="741.5" y="471.5" text-anchor="middle">180</text>
<text x="75" y="145.3" text-anchor="end">80N</text>
<text x="75" y="218.6" text-anchor="end">40N</text>
<text x="75" y="291.9" text-anchor="end">0</text>
<text x="75" y="365.2" text-anchor="end">40S</text>
<text x="75" y="438.5" text-anchor="end">80S</text>
</g>
<rect x="85.00" y="494.00" width="43.70" height="12.50" fill="#8200E0" stroke="#000" stroke-width="0.8"/>
<rect x="128.70" y="494.00" width="43.70" height="12.50" fill="#6C00D8" stroke="#000" stroke-width="0.8"/>
<rect x="172.40" y="494.00" width="43.70" height="12.50" fill="#4200D8" stroke="#000" stroke-width="0.8"/>
<rect x="216.10" y="494.00" width="43.70" height="12.50" fill="#0A28DC" stroke="#000" stroke-width="0.8"/>
<rect x="259.80" y="494.00" width="43.70" height="12.50" fill="#0478E0" stroke="#000" stroke-width="0.8"/>
<rect x="303.50" y="494.00" width="43.70" height="12.50" fill="#009ADE" stroke="#000" stroke-width="0.8"/>
<rect x="347.20" y="494.00" width="43.70" height="12.50" fill="#00B8E0" stroke="#000" stroke-width="0.8"/>
<rect x="390.90" y="494.00" width="43.70" height="12.50" fill="#00D6C8" stroke="#000" stroke-width="0.8"/>
<rect x="434.60" y="494.00" width="43.70" height="12.50" fill="#00DE6A" stroke="#000" stroke-width="0.8"/>
<rect x="478.30" y="494.00" width="43.70" height="12.50" fill="#76DC00" stroke="#000" stroke-width="0.8"/>
<rect x="522.00" y="494.00" width="43.70" height="12.50" fill="#C8DA00" stroke="#000" stroke-width="0.8"/>
<rect x="565.70" y="494.00" width="43.70" height="12.50" fill="#DEB400" stroke="#000" stroke-width="0.8"/>
<rect x="609.40" y="494.00" width="43.70" height="12.50" fill="#E07400" stroke="#000" stroke-width="0.8"/>
<rect x="653.10" y="494.00" width="43.70" height="12.50" fill="#E03C00" stroke="#000" stroke-width="0.8"/>
<rect x="696.80" y="494.00" width="43.70" height="12.50" fill="#E00000" stroke="#000" stroke-width="0.8"/>
<g font-size="18.5">
<text x="128.7" y="523" text-anchor="middle">25</text>
<text x="172.4" y="523" text-anchor="middle">30</text>
<text x="216.1" y="523" text-anchor="middle">32</text>
<text x="259.8" y="523" text-anchor="middle">34</text>
<text x="303.5" y="523" text-anchor="middle">34.5</text>
<text x="347.2" y="523" text-anchor="middle">34.8</text>
<text x="390.9" y="523" text-anchor="middle">34.9</text>
<text x="434.6" y="523" text-anchor="middle">35.1</text>
<text x="478.3" y="523" text-anchor="middle">35.2</text>
<text x="522.0" y="523" text-anchor="middle">35.5</text>
<text x="565.7" y="523" text-anchor="middle">36</text>
<text x="609.4" y="523" text-anchor="middle">38</text>
<text x="653.1" y="523" text-anchor="middle">40</text>
<text x="696.8" y="523" text-anchor="middle">45</text>
</g>
</svg>
</body></html>
